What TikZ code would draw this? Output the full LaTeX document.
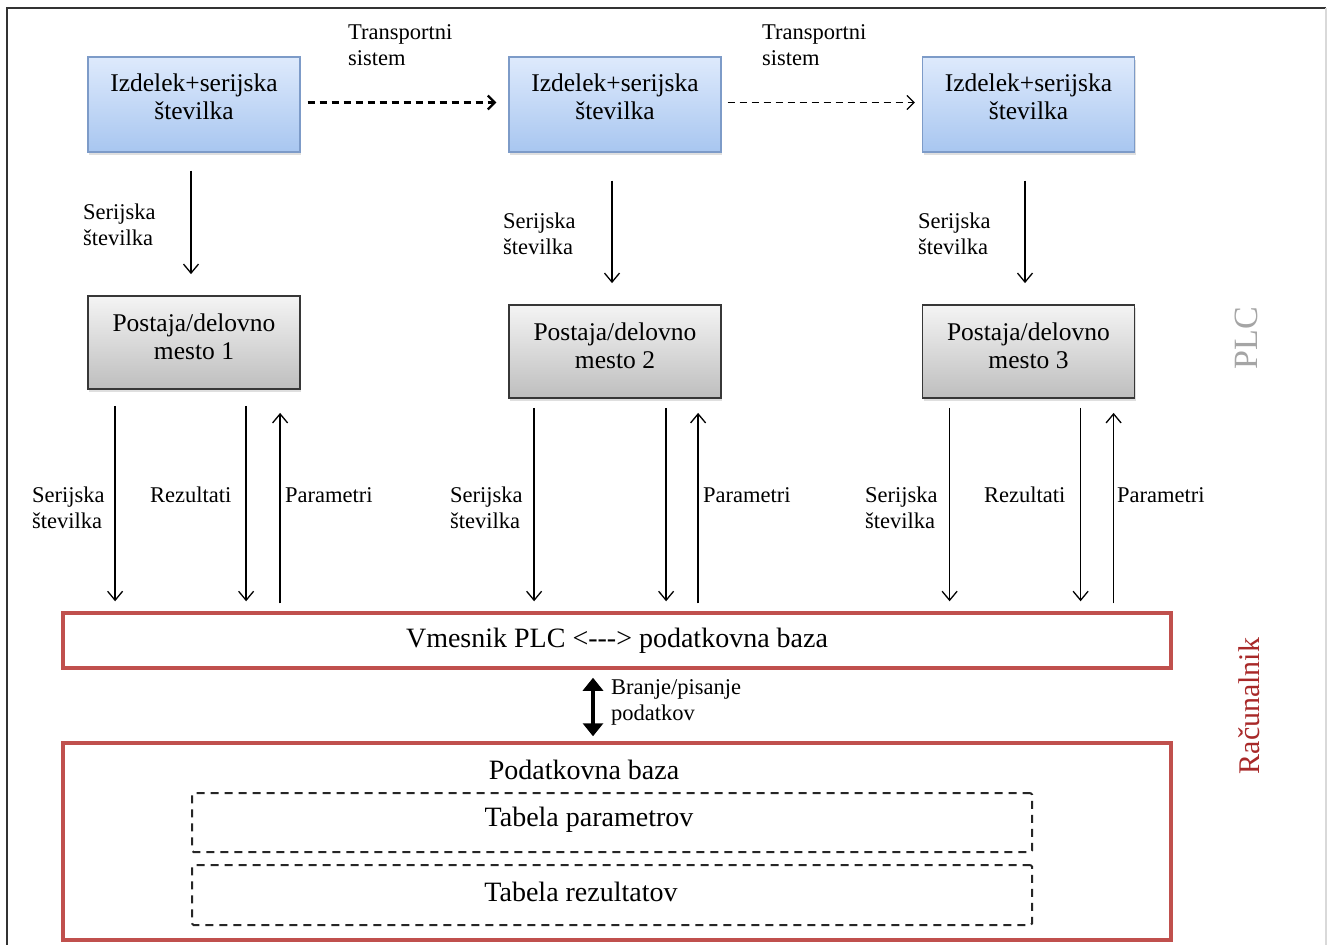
\documentclass[tikz,border=0pt]{standalone}
\usepackage{fontspec}
\setmainfont{Liberation Serif}
\usetikzlibrary{arrows.meta,shadows,calc}
\definecolor{redb}{RGB}{192,80,77}
\definecolor{blueT}{RGB}{222,234,252}
\definecolor{blueB}{RGB}{168,198,240}
\definecolor{blueD}{RGB}{125,155,200}
\definecolor{grayT}{RGB}{244,244,244}
\definecolor{grayB}{RGB}{190,190,190}
\definecolor{grayD}{RGB}{55,55,55}
\definecolor{plcgray}{RGB}{165,165,165}
\definecolor{racred}{RGB}{168,40,40}
\newcommand{\boxfont}{\fontsize{25.5}{28}\selectfont}
\newcommand{\bigfont}{\fontsize{28}{31}\selectfont}
\newcommand{\lblfont}{\fontsize{22.5}{26}\selectfont}
\begin{document}
\begin{tikzpicture}[x=1pt,y=-1pt,
  bluebox/.style={draw=blueD, line width=1.3pt, top color=blueT, bottom color=blueB,
    minimum width=212pt, minimum height=95pt, inner sep=0pt,
    drop shadow={shadow xshift=1pt, shadow yshift=-3pt, opacity=0.25}},
  graybox/.style={draw=grayD, line width=1.8pt, top color=grayT, bottom color=grayB,
    minimum width=212pt, minimum height=93pt, inner sep=0pt,
    drop shadow={shadow xshift=1pt, shadow yshift=-3pt, opacity=0.25}},
  boxtxt/.style={font=\boxfont, align=center, inner sep=0pt},
  redbox/.style={draw=redb, line width=3.5pt, fill=white, minimum width=1108pt, inner sep=0pt},
  tablebox/.style={draw=black!85, line width=2pt, dash pattern=on 8pt off 6pt,
    rounded corners=1.5pt, minimum width=840pt, inner sep=0pt},
  lbl/.style={font=\lblfont, align=left, inner sep=0pt, anchor=west},
  txt/.style={font=\bigfont, inner sep=0pt},
  arr/.style={line width=1.3pt, -{Straight Barb[length=9pt,width=15pt,line width=1.3pt]}},
  tarr/.style={dash pattern=on 7pt off 5pt, -{Straight Barb[length=7pt,width=14pt]}},
  dbl/.style={line width=4.5pt, {Triangle[width=20pt,length=13pt]}-{Triangle[width=20pt,length=13pt]}}
]
\useasboundingbox (0,0) rectangle (1328,945);
\fill[white] (0,0) rectangle (1328,945);
% frame
\draw[black!80, line width=2pt] (7,945) -- (7,8) -- (1326,8);
\draw[black!15, line width=1.5pt] (1326,8) -- (1326,945);

% product boxes
\node[bluebox] (b1) at (194,104.5) {};
\node[bluebox] (b2) at (615,104.5) {};
\node[bluebox] (b3) at (1028.5,104.5) {};
\node[boxtxt] (b1t) at ([yshift=8pt]b1.center) {Izdelek+serijska\\številka};
\node[boxtxt] (b2t) at ([yshift=8pt]b2.center) {Izdelek+serijska\\številka};
\node[boxtxt] (b3t) at ([yshift=8pt]b3.center) {Izdelek+serijska\\številka};

% stations
\node[graybox] (g1) at (194,342.5) {};
\node[graybox] (g2) at (615,351.5) {};
\node[graybox] (g3) at (1028.5,351.5) {};
\node[boxtxt] (g1t) at ([yshift=6pt]g1.center) {Postaja/delovno\\mesto 1};
\node[boxtxt] (g2t) at ([yshift=6pt]g2.center) {Postaja/delovno\\mesto 2};
\node[boxtxt] (g3t) at ([yshift=6pt]g3.center) {Postaja/delovno\\mesto 3};

% interface and database
\node[redbox, minimum height=55pt] (vm) at (617,640.5) {};
\node[txt] (vmt) at (617,641) {Vmesnik PLC <-{}-{}-> podatkovna baza};
\node[redbox, minimum height=197pt] (db) at (617,841.5) {};
\node[txt] (dbt) at (584,770) {Podatkovna baza};
\node[tablebox, minimum height=59pt] (t1) at (612,822.5) {};
\node[txt] (t1t) at (589,820) {Tabela parametrov};
\node[tablebox, minimum height=60pt] (t2) at (612,895) {};
\node[txt] (t2t) at (581,892) {Tabela rezultatov};

% transport arrows
\draw[tarr, line width=2.2pt] ([xshift=7pt,yshift=2pt]b1.east) -- ([xshift=-12pt,yshift=2pt]b2.west);
\draw[tarr, line width=1.3pt] ([xshift=6pt,yshift=2pt]b2.east) -- ([xshift=-7pt,yshift=2pt]b3.west);
\node[lbl] (tr1) at (348,45) {Transportni\\sistem};
\node[lbl] (tr2) at (762,45) {Transportni\\sistem};

% serial number arrows to stations
\draw[arr] ([xshift=-3pt,yshift=-18pt]b1.south) -- ([xshift=-3pt,yshift=21pt]g1.north);
\draw[arr] ([xshift=-3pt,yshift=-28pt]b2.south) -- ([xshift=-3pt,yshift=21pt]g2.north);
\draw[arr] ([xshift=-3.5pt,yshift=-28pt]b3.south) -- ([xshift=-3.5pt,yshift=21pt]g3.north);
\node[lbl] (s1) at (83,225) {Serijska\\številka};
\node[lbl] (s2) at (503,234) {Serijska\\številka};
\node[lbl] (s3) at (918,234) {Serijska\\številka};

% station 1 to interface
\draw[arr] ([xshift=28pt,yshift=-16pt]g1.south west) -- ([xshift=28pt,yshift=10pt]g1.south west |- vm.north);
\draw[arr] ([xshift=159pt,yshift=-16pt]g1.south west) -- ([xshift=159pt,yshift=10pt]g1.south west |- vm.north);
\draw[arr] ([xshift=193pt,yshift=8pt]g1.south west |- vm.north) -- ([xshift=193pt,yshift=-23pt]g1.south west);
% station 2
\draw[arr] ([xshift=26pt,yshift=-9pt]g2.south west) -- ([xshift=26pt,yshift=10pt]g2.south west |- vm.north);
\draw[arr] ([xshift=158pt,yshift=-9pt]g2.south west) -- ([xshift=158pt,yshift=10pt]g2.south west |- vm.north);
\draw[arr] ([xshift=190pt,yshift=8pt]g2.south west |- vm.north) -- ([xshift=190pt,yshift=-14pt]g2.south west);
% station 3
\draw[arr] ([xshift=28pt,yshift=-9pt]g3.south west) -- ([xshift=28pt,yshift=10pt]g3.south west |- vm.north);
\draw[arr] ([xshift=159pt,yshift=-9pt]g3.south west) -- ([xshift=159pt,yshift=10pt]g3.south west |- vm.north);
\draw[arr] ([xshift=192pt,yshift=8pt]g3.south west |- vm.north) -- ([xshift=192pt,yshift=-14pt]g3.south west);

\node[lbl] (l1) at (32,508) {Serijska\\številka};
\node[lbl] (r1) at (150,495) {Rezultati};
\node[lbl] (p1) at (285,495) {Parametri};
\node[lbl] (l2) at (450,508) {Serijska\\številka};
\node[lbl] (p2) at (703,495) {Parametri};
\node[lbl] (l3) at (865,508) {Serijska\\številka};
\node[lbl] (r3) at (984,495) {Rezultati};
\node[lbl] (p3) at (1117,495) {Parametri};

% read/write
\draw[dbl] ([xshift=-24pt,yshift=-8pt]vm.south) -- ([xshift=-24pt,yshift=5pt]db.north);
\node[lbl] (rw) at (611,702) {Branje/pisanje\\podatkov};

% side labels
\node[font=\fontsize{34}{36}\selectfont, text=plcgray, rotate=90, inner sep=0pt] (plc) at (1246,338) {PLC};
\node[font=\fontsize{30}{32}\selectfont, text=racred, rotate=90, inner sep=0pt] (rac) at (1249,706) {Računalnik};
\end{tikzpicture}
\end{document}
